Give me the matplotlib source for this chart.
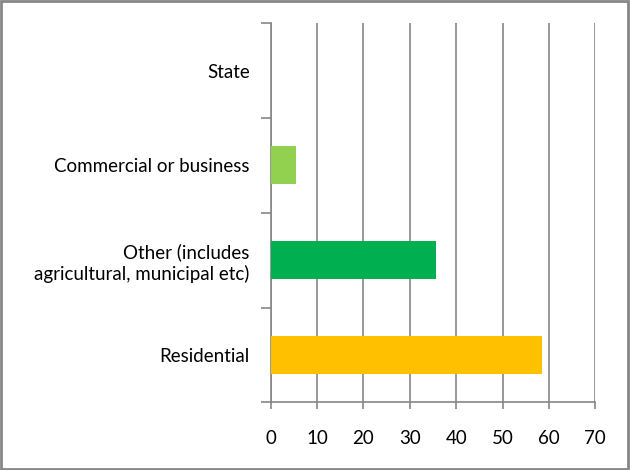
import matplotlib.pyplot as plt
import numpy as np

# 数据（自下而上）
categories = ['Residential', 'Other (includes\nagricultural, municipal etc)',
              'Commercial or business', 'State']
values = [58.4, 35.6, 5.5, 0.0]
colors = ['#FFC000', '#00B050', '#92D050', '#92D050']
x_ticks = [0, 10, 20, 30, 40, 50, 60, 70]

plt.rcParams['font.family'] = ['Lato', 'DejaVu Sans']

fig = plt.figure(figsize=(6.3, 4.7), dpi=100)
ax = fig.add_axes([270.7 / 630, (470 - 402.3) / 470, (595.3 - 270.7) / 630, (402.3 - 23.3) / 470])

y = np.arange(len(categories))
ax.barh(y, values, height=0.4, color=colors, zorder=3)

ax.set_xlim(0, 70)
ax.set_ylim(-0.5, len(categories) - 0.5)
ax.set_xticks(x_ticks)
ax.set_xticklabels([str(t) for t in x_ticks], fontsize=13.5)
ax.grid(axis='x', color='#868686', linewidth=1.2, zorder=0)

# y 轴：刻度线在类别边界，标签在中间
ax.set_yticks(np.arange(-0.5, len(categories), 1.0))
ax.set_yticklabels([])
ax.set_yticks(y, minor=True)
ax.set_yticklabels(categories, minor=True, fontsize=13.5, linespacing=1.25)
ax.tick_params(axis='y', which='major', length=7, color='#868686', width=1.2, direction='out')
ax.tick_params(axis='y', which='minor', length=0, pad=15)
ax.tick_params(axis='x', length=5, color='#868686', width=1.2, pad=15)

for s in ['top', 'right']:
    ax.spines[s].set_visible(False)
for s in ['left', 'bottom']:
    ax.spines[s].set_color('#868686')
    ax.spines[s].set_linewidth(1.2)

# 图外边框
fig.patches.append(plt.Rectangle((0.002, 0.003), 0.995, 0.994, transform=fig.transFigure,
                                 fill=False, edgecolor='#868686', linewidth=2))

fig.savefig('out.png', dpi=100)
